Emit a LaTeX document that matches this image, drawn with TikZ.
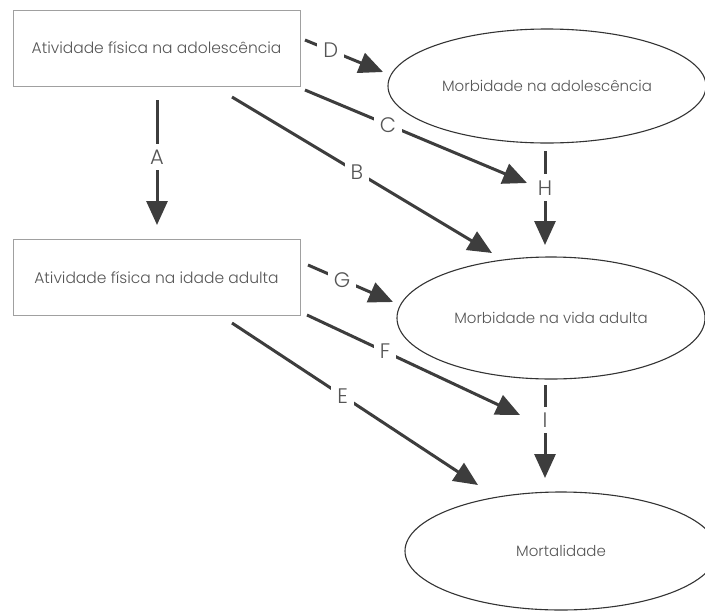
\documentclass[tikz,border=0pt]{standalone}
\usepackage{fontspec}
\setmainfont{Poppins}[UprightFont={* Light}]
\usetikzlibrary{shapes.geometric,arrows.meta}
\definecolor{arrowc}{HTML}{3D3D3D}
\definecolor{textc}{HTML}{555555}
\definecolor{boxc}{HTML}{A0A0A0}
\tikzset{
  boxnode/.style={draw=boxc,line width=0.9pt,minimum width=287pt,minimum height=76pt,inner sep=0pt,text=textc,font=\fontsize{15.5}{18}\selectfont},
  ellnode/.style={ellipse,draw=black!80,line width=1.1pt,inner sep=0pt,text=textc,font=\fontsize{15}{18}\selectfont},
  conn/.style={draw=arrowc,line width=3pt,-{Triangle[length=24pt,width=21pt]}},
  lbl/.style={fill=white,inner sep=6pt,text=textc,font=\fontsize{21}{23}\selectfont}
}
\begin{document}
\begin{tikzpicture}[x=1pt,y=-1pt]
\useasboundingbox (0,0) rectangle (705,611);
\clip (0,0) rectangle (705,611);
\node[boxnode] (b1) at (156.5,48) {Atividade física na adolescência};
\node[boxnode] (b2) at (156.5,277.5) {Atividade física na idade adulta};
\node[ellnode,minimum width=318pt,minimum height=114pt] (e1) at (547,86) {Morbidade na adolescência};
\node[ellnode,minimum width=308pt,minimum height=122pt] (e2) at (551,318) {Morbidade na vida adulta};
\node[ellnode,minimum width=312pt,minimum height=118pt] (e3) at (561,551) {Mortalidade};
% endpoints
\coordinate (aS) at (157,100); \coordinate (aT) at (157,225);
\coordinate (bS) at (232,97);  \coordinate (bT) at (492,253);
\coordinate (cS) at (305,90);  \coordinate (cT) at (527,183);
\coordinate (dS) at (305,40);  \coordinate (dT) at (383,72);
\coordinate (gS) at (308,265); \coordinate (gT) at (393,302);
\coordinate (fS) at (307,315); \coordinate (fT) at (520,415);
\coordinate (eS) at (232,323); \coordinate (eT) at (478,485);
\coordinate (hS) at (545,151); \coordinate (hT) at (545,245);
\coordinate (iS) at (545,385); \coordinate (iT) at (545,478);
\draw[conn] (aS) -- node[lbl,pos=0.456] {A} (aT);
\draw[conn] (bS) -- node[lbl,pos=0.48] {B} (bT);
\draw[conn] (cS) -- node[lbl,pos=0.374] {C} (cT);
\draw[conn] (dS) -- node[lbl,pos=0.33] {D} (dT);
\draw[conn] (gS) -- node[lbl,pos=0.4] {G} (gT);
\draw[conn] (fS) -- node[lbl,pos=0.366] {F} (fT);
\draw[conn] (eS) -- node[lbl,pos=0.45] {E} (eT);
\draw[conn] (hS) -- node[lbl,pos=0.39] {H} (hT);
\draw[conn] (iS) -- node[lbl,pos=0.376] {I} (iT);
\end{tikzpicture}
\end{document}
